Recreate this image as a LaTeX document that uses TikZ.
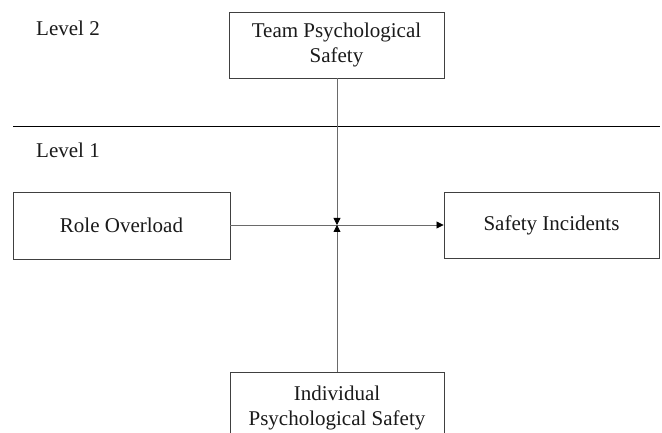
\documentclass[tikz,border=0pt]{standalone}
\usepackage{fontspec}
\setmainfont{Liberation Serif}
\usetikzlibrary{arrows.meta}
\definecolor{txt}{HTML}{1A1A1A}
\definecolor{boxline}{HTML}{404040}
\definecolor{conn}{HTML}{6A6A6A}
\tikzset{
  varbox/.style={draw=boxline, line width=0.9pt, rectangle, align=center, inner sep=0pt, text=txt,
    font=\fontsize{21}{25}\selectfont},
  lvl/.style={anchor=base west, inner sep=0pt, text=txt, font=\fontsize{21}{25}\selectfont},
  tip/.style={-{Triangle[length=7pt,width=7pt,color=black]}, draw=conn, line width=0.8pt},
}
\begin{document}
\begin{tikzpicture}[x=1pt,y=-1pt]
\useasboundingbox (0,0) rectangle (662,433);
\clip (0,0) rectangle (662,433);
\fill[white] (0,0) rectangle (662,433);
% divider
\coordinate (dl) at (13,127);
\coordinate (dr) at (660,127);
\draw[line width=1pt, black] (dl) -- (dr);
% level labels
\node[lvl] (l2) at (36,36) {Level 2};
\node[lvl] (l1) at (36,158) {Level 1};
% boxes
\node[varbox, minimum width=215pt, minimum height=66pt] (team) at (336.5,45) {Team Psychological\\Safety};
\node[varbox, minimum width=217pt, minimum height=67pt] (role) at (121.5,225.5) {Role Overload};
\node[varbox, minimum width=215pt, minimum height=66pt] (inc) at (551.5,225) {\strut Safety Incidents};
\node[varbox, minimum width=214pt, minimum height=72pt] (ind) at (337,408) {Individual\\Psychological Safety};
% connectors
\coordinate (c) at (337,225);
\draw[tip] (role.east |- c) -- (inc.west |- c);
\draw[tip] (team.south -| c) -- (c);
\draw[tip] (ind.north -| c) -- (c);
\end{tikzpicture}
\end{document}
